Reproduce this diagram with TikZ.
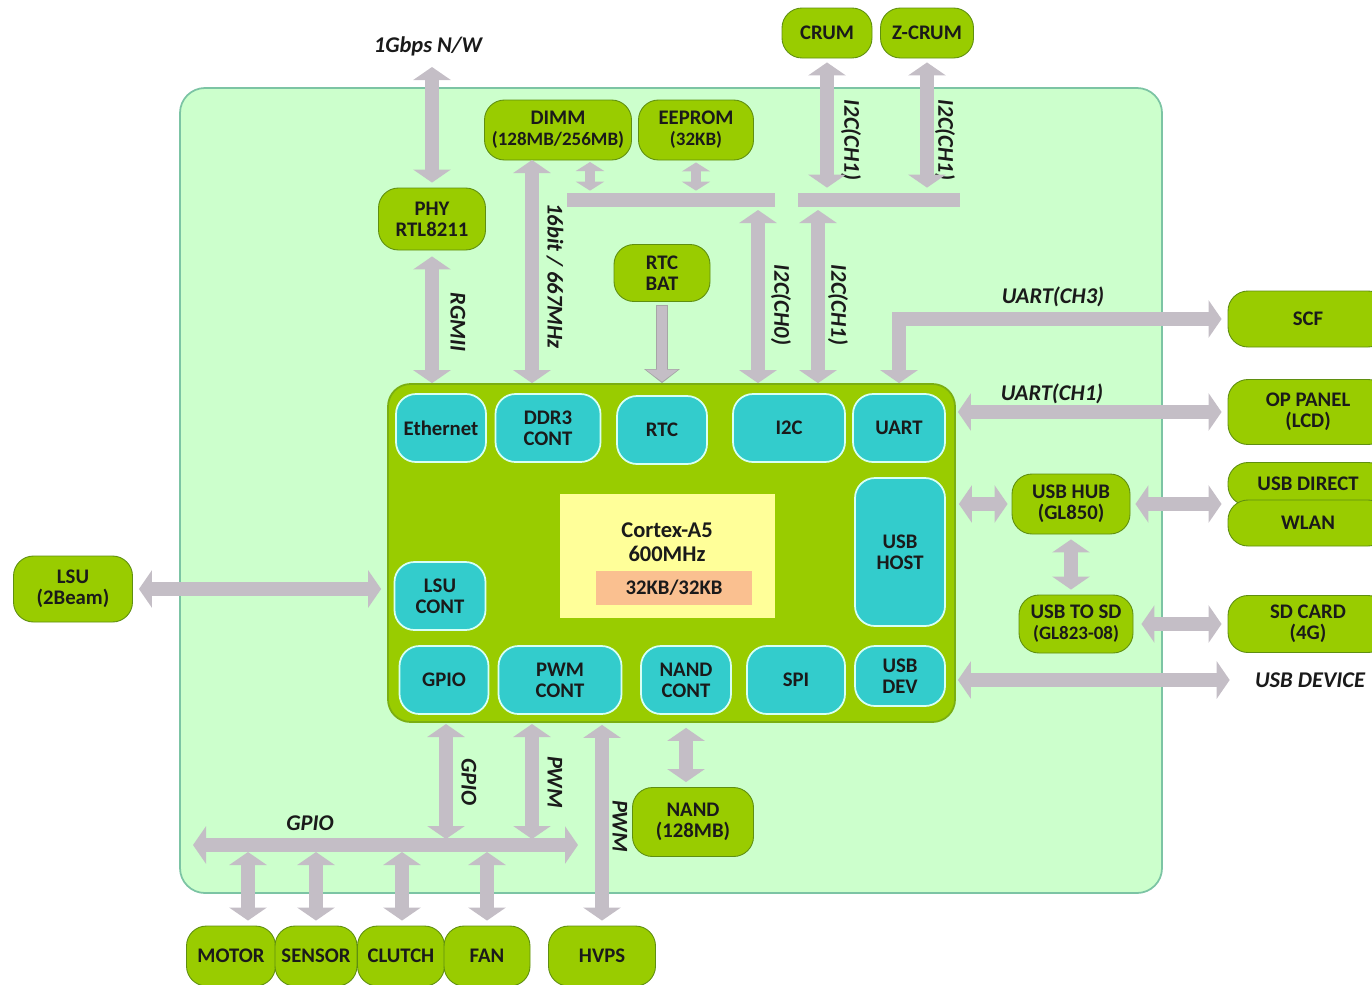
\documentclass[tikz,border=0pt]{standalone}
\usepackage{fontspec}
\setmainfont{Carlito}
\usetikzlibrary{arrows.meta}
\definecolor{bgfill}{HTML}{CCFFCC}
\definecolor{bgdraw}{HTML}{7CC4A4}
\definecolor{chipfill}{HTML}{99CC00}
\definecolor{chipdraw}{HTML}{7AAE12}
\definecolor{cyanfill}{HTML}{33CCCC}
\definecolor{cyandraw}{HTML}{D8FFF4}
\definecolor{gfill}{HTML}{99CC00}
\definecolor{gdraw}{HTML}{5F8F10}
\definecolor{arrgray}{HTML}{C4BEC6}
\definecolor{coreyel}{HTML}{FFFF99}
\definecolor{corepink}{HTML}{FAC090}
\definecolor{txt}{HTML}{1A1A1A}
\tikzset{
  gnode/.style={draw=gdraw, line width=0.5pt, fill=gfill, rounded corners=4mm, align=center, text=txt, font=\fontsize{11.8}{12}\selectfont\bfseries, inner sep=0pt},
  cnode/.style={draw=cyandraw, line width=1pt, fill=cyanfill, rounded corners=4mm, align=center, text=txt, font=\fontsize{11.8}{12}\selectfont\bfseries, inner sep=0pt, minimum height=13.6mm},
  lbl/.style={text=txt, font=\fontsize{12.8}{13}\selectfont\bfseries\itshape, inner sep=0pt},
  dbl/.style={draw=arrgray, line width=2.7mm, line join=miter, {Triangle[width=7.4mm,length=2.6mm]}-{Triangle[width=7.4mm,length=2.6mm]}},
  smalldbl/.style={draw=arrgray, line width=2mm, {Triangle[width=5.6mm,length=1.8mm]}-{Triangle[width=5.6mm,length=1.8mm]}},
  busbar/.style={fill=arrgray, draw=none, minimum height=2.8mm, inner sep=0pt}
}
\begin{document}
\begin{tikzpicture}[x=0.2mm,y=-0.2mm]
\useasboundingbox (0,0) rectangle (1372,984);
% background board
\node[draw=bgdraw, line width=1pt, fill=bgfill, rounded corners=5mm, minimum width=196.4mm, minimum height=161mm, inner sep=0pt] (board) at (671,490.5) {};
% chip
\node[draw=chipdraw, line width=1pt, fill=chipfill, rounded corners=4.5mm, minimum width=113.4mm, minimum height=67.6mm, inner sep=0pt] (chip) at (671.5,553) {};
% core
\node[fill=coreyel, draw=none, minimum width=43mm, minimum height=24.8mm, inner sep=0pt] (core) at (667.5,556) {};
\node[text=txt, font=\fontsize{12.8}{14}\selectfont\bfseries, align=center, inner sep=0pt] (coretxt) at (667,542) {Cortex-A5\\600MHz};
\node[fill=corepink, draw=none, minimum width=31.2mm, minimum height=6.8mm, inner sep=0pt, text=txt, font=\fontsize{11.8}{12}\selectfont\bfseries] (cache) at (674,588) {32KB/32KB};
% cyan blocks
\node[cnode, minimum width=18mm] (eth) at (441,428) {Ethernet};
\node[cnode, minimum width=21mm] (ddr) at (548,428) {DDR3\\CONT};
\node[cnode, minimum width=18mm] (rtc) at (662,430) {RTC};
\node[cnode, minimum width=22.4mm] (i2c) at (789,428) {I2C};
\node[cnode, minimum width=18.4mm] (uart) at (899,428) {UART};
\node[cnode, minimum width=18mm, minimum height=29.6mm] (usbhost) at (900,552) {USB\\HOST};
\node[cnode, minimum width=18.2mm] (lsucont) at (440,596) {LSU\\CONT};
\node[cnode, minimum width=17.8mm] (gpio) at (444,680) {GPIO};
\node[cnode, minimum width=24.6mm] (pwm) at (560,680) {PWM\\CONT};
\node[cnode, minimum width=18mm] (nandc) at (686,680) {NAND\\CONT};
\node[cnode, minimum width=19.6mm] (spi) at (796,680) {SPI};
\node[cnode, minimum width=18mm, minimum height=12mm] (usbdev) at (900,676) {USB\\DEV};
% green external nodes
\node[gnode, minimum width=18mm, minimum height=10mm] (crum) at (827,33) {CRUM};
\node[gnode, minimum width=18.6mm, minimum height=10mm] (zcrum) at (927,33) {Z-CRUM};
\node[gnode, minimum width=29.4mm, minimum height=12mm] (dimm) at (558,130) {DIMM\\{\fontsize{10.8}{11}\selectfont(128MB/256MB)}};
\node[gnode, minimum width=23mm, minimum height=12mm] (eeprom) at (696,130) {EEPROM\\{\fontsize{10.8}{11}\selectfont(32KB)}};
\node[gnode, minimum width=21.4mm, minimum height=12.4mm] (phy) at (432,219) {PHY\\RTL8211};
\node[gnode, minimum width=19.2mm, minimum height=11.4mm] (rtcbat) at (662,273) {RTC\\BAT};
\node[gnode, minimum width=32mm, minimum height=11.2mm] (scf) at (1308,319) {SCF};
\node[gnode, minimum width=32mm, minimum height=13mm] (oppanel) at (1308,412) {OP PANEL\\(LCD)};
\node[gnode, minimum width=32mm, minimum height=8.6mm] (usbdirect) at (1308,484) {USB DIRECT};
\node[gnode, minimum width=32mm, minimum height=9.2mm] (wlan) at (1308,523) {WLAN};
\node[gnode, minimum width=23.6mm, minimum height=12mm] (usbhub) at (1071,504) {USB HUB\\(GL850)};
\node[gnode, minimum width=22.8mm, minimum height=11.6mm] (usbtosd) at (1076,624) {USB TO SD\\{\fontsize{10.8}{11}\selectfont(GL823-08)}};
\node[gnode, minimum width=32mm, minimum height=11.4mm] (sdcard) at (1308,624) {SD CARD\\(4G)};
\node[gnode, minimum width=23.8mm, minimum height=13.2mm] (lsu) at (73,589) {LSU\\(2Beam)};
\node[gnode, minimum width=24.2mm, minimum height=13.8mm] (nand) at (693,822) {NAND\\(128MB)};
\node[gnode, minimum width=17.8mm, minimum height=12mm] (motor) at (231,956) {MOTOR};
\node[gnode, minimum width=16.4mm, minimum height=12mm] (sensor) at (316,956) {SENSOR};
\node[gnode, minimum width=17.4mm, minimum height=12mm] (clutch) at (401,956) {CLUTCH};
\node[gnode, minimum width=17.2mm, minimum height=12mm] (fan) at (487,956) {FAN};
\node[gnode, minimum width=21.4mm, minimum height=12mm] (hvps) at (602,956) {HVPS};
% bus bars
\node[busbar, minimum width=41.6mm] (bus1) at (671,200) {};
\node[busbar, minimum width=32.4mm] (bus2) at (879,200) {};
% labels
\node[lbl] (nw) at (428,46) {1Gbps N/W};
\node[lbl, rotate=-90] (lrgmii) at (458,322) {RGMII};
\node[lbl, rotate=-90] (lddr) at (555,276) {16bit / 667MHz};
\node[lbl, rotate=-90] (lcrum) at (851,140) {I2C(CH1)};
\node[lbl, rotate=-90] (lzcrum) at (945,140) {I2C(CH1)};
\node[lbl, rotate=-90] (lch0) at (781,305) {I2C(CH0)};
\node[lbl, rotate=-90] (lch1) at (838,305) {I2C(CH1)};
\node[lbl] (luart3) at (1053,297) {UART(CH3)};
\node[lbl] (luart1) at (1052,394) {UART(CH1)};
\node[lbl] (usbdevice) at (1310,680) {USB DEVICE};
\node[lbl, rotate=-90] (lgpio) at (469,782) {GPIO};
\node[lbl, rotate=-90] (lpwm) at (555,782) {PWM};
\node[lbl, rotate=-90] (lpwm2) at (620,826) {PWM};
\node[lbl] (lgbus) at (310,823) {GPIO};
% coordinates
\coordinate (nwend) at (432,62);
\coordinate (ddrx) at (532,160);
\coordinate (dimmx) at (590,162);
\coordinate (ch0x) at (758,207);
\coordinate (ch1x) at (818,207);
\coordinate (gl) at (193,845);
\coordinate (gr) at (578,845);
\coordinate (gpiox) at (446,724);
\coordinate (pwmx) at (532,724);
\coordinate (mx) at (248,852);
\coordinate (sx) at (316,852);
\coordinate (cx) at (402,852);
\coordinate (fx) at (487,852);
% arrows
\draw[dbl, shorten <=1mm] (nwend) -- ([yshift=1mm]phy.north);
\draw[dbl] ([yshift=-1.2mm]phy.south) -- (phy.south |- chip.north);
\draw[dbl] (ddrx) -- (ddrx |- chip.north);
\draw[smalldbl] (dimmx) -- ([yshift=0.4mm]dimmx |- bus1.north);
\draw[smalldbl] ([yshift=-0.4mm]eeprom.south) -- ([yshift=0.4mm]eeprom.south |- bus1.north);
\draw[dbl] ([yshift=-0.6mm]ch0x) -- (ch0x |- chip.north);
\draw[dbl] ([yshift=-0.6mm]ch1x) -- (ch1x |- chip.north);
\draw[dbl] ([yshift=-0.8mm]crum.south) -- ([yshift=1mm]crum.south |- bus2.north);
\draw[dbl] ([yshift=-0.8mm]zcrum.south) -- ([yshift=1mm]zcrum.south |- bus2.north);
\draw[draw=gray!70, line width=2.4mm, -{Triangle[width=7mm,length=2.8mm]}] ([yshift=-0.6mm]rtcbat.south) -- (rtcbat.south |- chip.north);
\draw[draw=arrgray, line width=1.9mm, -{Triangle[width=6.3mm,length=2.4mm]}] ([yshift=-0.8mm]rtcbat.south) -- ([yshift=0.3mm]rtcbat.south |- chip.north);
\draw[dbl] (uart.north |- chip.north) -- (uart.north |- scf.west) -- ([xshift=-1.2mm]scf.west);
\draw[dbl] ([xshift=0.4mm]chip.east |- oppanel.west) -- ([xshift=-1.2mm]oppanel.west);
\draw[dbl] ([xshift=0.6mm]chip.east |- usbhub.west) -- ([xshift=-0.8mm]usbhub.west);
\draw[dbl] ([xshift=1mm]usbhub.east) -- ([xshift=-1.2mm]usbhub.east -| wlan.west);
\draw[dbl] ([yshift=-1mm]usbhub.south) -- ([yshift=1mm]usbhub.south |- usbtosd.north);
\draw[dbl] ([xshift=1.6mm]usbtosd.east) -- ([xshift=-1.2mm]sdcard.west);
\draw[dbl] ([xshift=0.4mm]chip.east |- usbdevice.west) -- ([xshift=-5mm]usbdevice.west);
\draw[dbl] ([xshift=1.2mm]lsu.east) -- ([xshift=-1.2mm]lsu.east -| chip.west);
\draw[dbl] (gl) -- (gr);
\draw[dbl] (gpiox) -- ([yshift=1.2mm]gpiox |- gl);
\draw[dbl] (pwmx) -- ([yshift=1.2mm]pwmx |- gl);
\draw[dbl] ([yshift=-0.4mm]hvps.north |- chip.south) -- ([yshift=1mm]hvps.north);
\draw[dbl] ([yshift=-1mm]nandc.south |- chip.south) -- ([yshift=1mm]nandc.south |- nand.north);
\draw[dbl] (mx) -- ([yshift=1mm]mx |- motor.north);
\draw[dbl] (sx) -- ([yshift=1mm]sx |- sensor.north);
\draw[dbl] (cx) -- ([yshift=1mm]cx |- clutch.north);
\draw[dbl] (fx) -- ([yshift=1mm]fx |- fan.north);
\end{tikzpicture}
\end{document}
